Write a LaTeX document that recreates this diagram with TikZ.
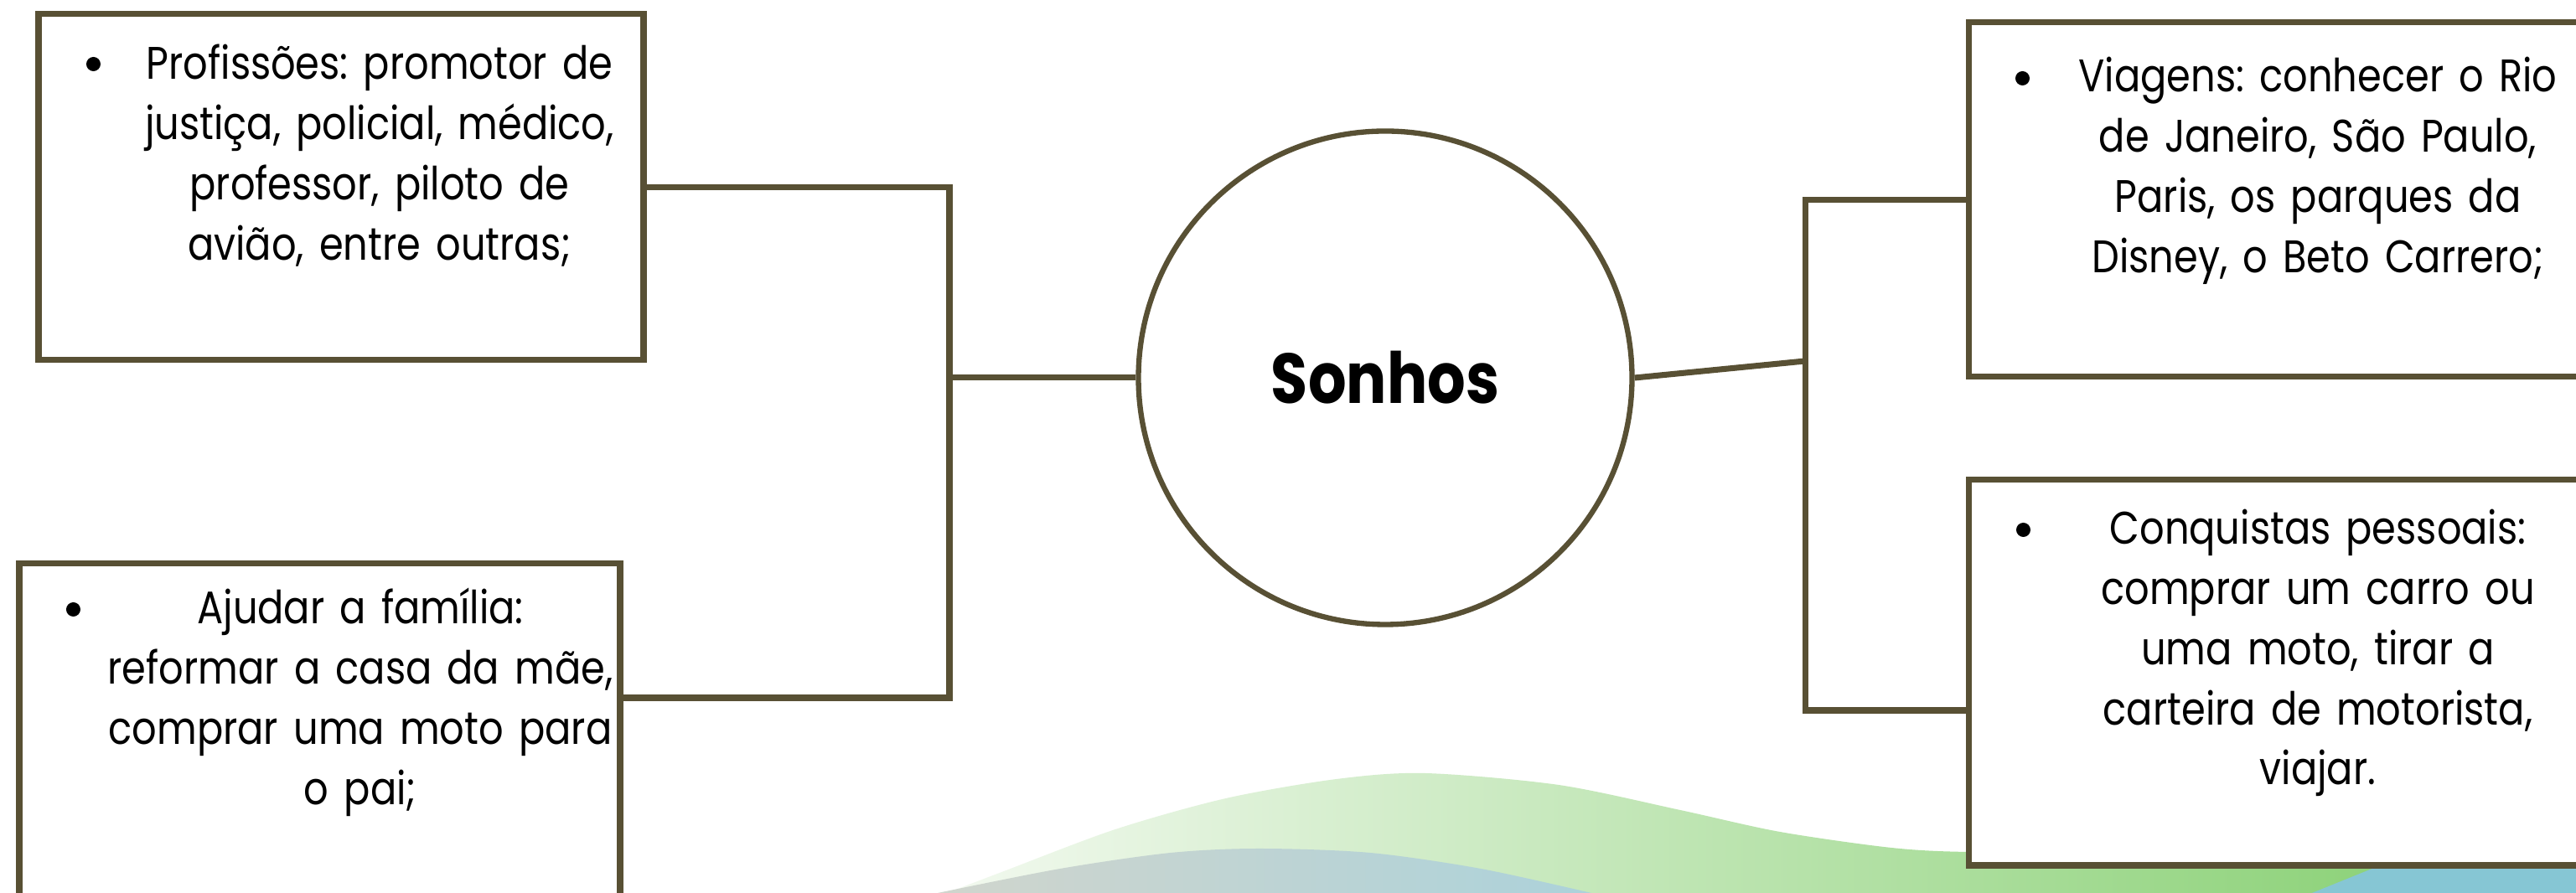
\documentclass[tikz,border=0pt]{standalone}
\usepackage{fontspec}
\setmainfont{Poppins}[FakeStretch=0.85]
\usetikzlibrary{positioning}
\definecolor{frame}{RGB}{88,80,52}
\definecolor{grassL}{RGB}{242,249,239}
\definecolor{grassR}{RGB}{128,205,106}
\definecolor{mistL}{RGB}{208,213,205}
\definecolor{mistR}{RGB}{172,210,218}
\definecolor{sea}{RGB}{134,198,212}
\tikzset{
  card/.style={draw=frame,line width=2pt,fill=white,minimum height=4.13cm},
  itemtext/.style={text width=6.6cm,align=center,inner sep=0pt,font=\fontsize{15.5}{20.4}\selectfont},
  bul/.style={circle,fill=black,inner sep=0pt,minimum size=0.17cm},
  link/.style={draw=frame,line width=2pt}
}
\frenchspacing
\begin{document}
\begin{tikzpicture}
\useasboundingbox (0,0) rectangle (30.74,10.66);
\clip (0,0) rectangle (30.74,10.66);
\fill[white] (0,0) rectangle (30.74,10.66);
% waves at the bottom
\shade[left color=grassL,right color=grassR] plot[smooth] coordinates {(11.3,0) (11.98,0.26) (13.31,0.76) (14.63,1.13) (15.95,1.36) (17.01,1.43) (18.6,1.29) (20.05,0.99) (21.24,0.73) (22.57,0.54) (23.49,0.49) (25,0.5) (30.74,0.6)} -- (30.74,0) -- cycle;
\shade[left color=mistL,right color=mistR] plot[smooth] coordinates {(11.19,0) (12.65,0.29) (13.97,0.48) (15.03,0.53) (16.35,0.48) (17.67,0.29) (18.99,0)} -- cycle;
\fill[sea] (27.59,0) -- (28.7,0.45) -- (30.74,0.45) -- (30.74,0) -- cycle;
% boxes
\node[card,minimum width=7.22cm] (prof) at (4.07,8.425) {};
\node[card,minimum width=7.17cm] (fam) at (3.815,1.865) {};
\node[card,minimum width=7.4cm,minimum height=4.23cm] (viag) at (27.19,8.275) {};
\node[card,minimum width=7.4cm,minimum height=4.6cm] (conq) at (27.19,2.63) {};
\node[circle,draw=frame,line width=1.8pt,fill=white,minimum size=5.89cm,inner sep=0pt,
  font=\fontsize{24}{28}\selectfont\bfseries] (sonhos) at (16.53,6.15) {Sonhos};
% texts
\node[itemtext,below=0.306cm of prof.north,xshift=0.46cm] (proft) {\strut Profissões: promotor de\\justiça, policial, médico,\\professor, piloto de\\avião, entre outras;};
\node[itemtext,below=0.246cm of fam.north,xshift=0.485cm] (famt) {\strut Ajudar a família:\\reformar a casa da mãe,\\comprar uma moto para\\o pai;};
\node[itemtext,below=0.356cm of viag.north,xshift=0.47cm] (viagt) {\strut Viagens: conhecer o Rio\\de Janeiro, São Paulo,\\Paris, os parques da\\Disney, o Beto Carrero;};
\node[itemtext,below=0.296cm of conq.north,xshift=0.47cm] (conqt) {\strut Conquistas pessoais:\\comprar um carro ou\\uma moto, tirar a\\carteira de motorista,\\viajar.};
\node[bul,below right=0.63cm and 0.69cm of prof.north west,anchor=center] (profb) {};
\node[bul,below right=0.58cm and 0.68cm of fam.north west,anchor=center] (famb) {};
\node[bul,below right=0.70cm and 0.68cm of viag.north west,anchor=center] (viagb) {};
\node[bul,below right=0.63cm and 0.69cm of conq.north west,anchor=center] (conqb) {};
% connectors
\coordinate (jlb) at (11.33,2.33);
\coordinate (jrb) at (21.54,2.18);
\coordinate (jr) at (21.54,6.35);
\draw[link] (prof.east) -| (jlb) -- (jlb -| fam.east);
\draw[link] (sonhos.west) -- (sonhos.west -| jlb);
\draw[link] (viag.west) -| (jrb) -- (jrb -| conq.west);
\draw[link] (sonhos.east) -- (jr);
\end{tikzpicture}
\end{document}
